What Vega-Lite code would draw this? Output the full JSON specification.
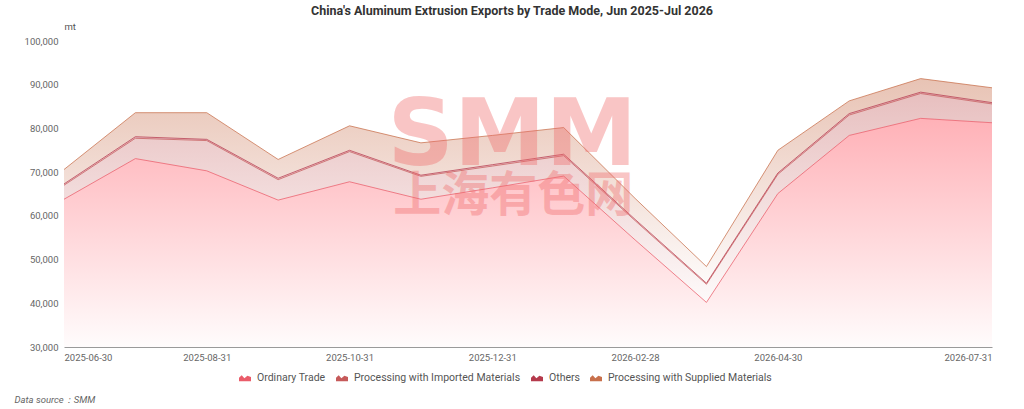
{
  "$schema": "https://vega.github.io/schema/vega-lite/v6.json",
  "width": 928,
  "height": 306,
  "autosize": {"type": "none"},
  "padding": {"left": 64, "top": 41, "right": 32, "bottom": 62},
  "background": "white",
  "config": {"font": "Roboto", "view": {"stroke": null}},
  "title": {
    "text": "China's Aluminum Extrusion Exports by Trade Mode, Jun 2025-Jul 2026",
    "fontSize": 12.5,
    "fontWeight": "bold",
    "color": "#333333",
    "anchor": "middle",
    "frame": "group",
    "dx": -16,
    "offset": 4
  },
  "data": {
    "values": [
      {"date": "2025-06-30", "mode": "Ordinary Trade", "rank": 1, "value": 63800},
      {"date": "2025-06-30", "mode": "Processing with Imported Materials", "rank": 2, "value": 3200},
      {"date": "2025-06-30", "mode": "Others", "rank": 3, "value": 300},
      {"date": "2025-06-30", "mode": "Processing with Supplied Materials", "rank": 4, "value": 3300},
      {"date": "2025-07-31", "mode": "Ordinary Trade", "rank": 1, "value": 73100},
      {"date": "2025-07-31", "mode": "Processing with Imported Materials", "rank": 2, "value": 4650},
      {"date": "2025-07-31", "mode": "Others", "rank": 3, "value": 350},
      {"date": "2025-07-31", "mode": "Processing with Supplied Materials", "rank": 4, "value": 5500},
      {"date": "2025-08-31", "mode": "Ordinary Trade", "rank": 1, "value": 70300},
      {"date": "2025-08-31", "mode": "Processing with Imported Materials", "rank": 2, "value": 6920},
      {"date": "2025-08-31", "mode": "Others", "rank": 3, "value": 280},
      {"date": "2025-08-31", "mode": "Processing with Supplied Materials", "rank": 4, "value": 6100},
      {"date": "2025-09-30", "mode": "Ordinary Trade", "rank": 1, "value": 63600},
      {"date": "2025-09-30", "mode": "Processing with Imported Materials", "rank": 2, "value": 4680},
      {"date": "2025-09-30", "mode": "Others", "rank": 3, "value": 320},
      {"date": "2025-09-30", "mode": "Processing with Supplied Materials", "rank": 4, "value": 4300},
      {"date": "2025-10-31", "mode": "Ordinary Trade", "rank": 1, "value": 67800},
      {"date": "2025-10-31", "mode": "Processing with Imported Materials", "rank": 2, "value": 6900},
      {"date": "2025-10-31", "mode": "Others", "rank": 3, "value": 300},
      {"date": "2025-10-31", "mode": "Processing with Supplied Materials", "rank": 4, "value": 5600},
      {"date": "2025-11-30", "mode": "Ordinary Trade", "rank": 1, "value": 63800},
      {"date": "2025-11-30", "mode": "Processing with Imported Materials", "rank": 2, "value": 5240},
      {"date": "2025-11-30", "mode": "Others", "rank": 3, "value": 260},
      {"date": "2025-11-30", "mode": "Processing with Supplied Materials", "rank": 4, "value": 7400},
      {"date": "2025-12-31", "mode": "Ordinary Trade", "rank": 1, "value": 66400},
      {"date": "2025-12-31", "mode": "Processing with Imported Materials", "rank": 2, "value": 4990},
      {"date": "2025-12-31", "mode": "Others", "rank": 3, "value": 310},
      {"date": "2025-12-31", "mode": "Processing with Supplied Materials", "rank": 4, "value": 6700},
      {"date": "2026-01-31", "mode": "Ordinary Trade", "rank": 1, "value": 69100},
      {"date": "2026-01-31", "mode": "Processing with Imported Materials", "rank": 2, "value": 4670},
      {"date": "2026-01-31", "mode": "Others", "rank": 3, "value": 330},
      {"date": "2026-01-31", "mode": "Processing with Supplied Materials", "rank": 4, "value": 6100},
      {"date": "2026-02-28", "mode": "Ordinary Trade", "rank": 1, "value": 54500},
      {"date": "2026-02-28", "mode": "Processing with Imported Materials", "rank": 2, "value": 4410},
      {"date": "2026-02-28", "mode": "Others", "rank": 3, "value": 290},
      {"date": "2026-02-28", "mode": "Processing with Supplied Materials", "rank": 4, "value": 4800},
      {"date": "2026-03-31", "mode": "Ordinary Trade", "rank": 1, "value": 40200},
      {"date": "2026-03-31", "mode": "Processing with Imported Materials", "rank": 2, "value": 4150},
      {"date": "2026-03-31", "mode": "Others", "rank": 3, "value": 250},
      {"date": "2026-03-31", "mode": "Processing with Supplied Materials", "rank": 4, "value": 3800},
      {"date": "2026-04-30", "mode": "Ordinary Trade", "rank": 1, "value": 65100},
      {"date": "2026-04-30", "mode": "Processing with Imported Materials", "rank": 2, "value": 4400},
      {"date": "2026-04-30", "mode": "Others", "rank": 3, "value": 300},
      {"date": "2026-04-30", "mode": "Processing with Supplied Materials", "rank": 4, "value": 5200},
      {"date": "2026-05-31", "mode": "Ordinary Trade", "rank": 1, "value": 78400},
      {"date": "2026-05-31", "mode": "Processing with Imported Materials", "rank": 2, "value": 4660},
      {"date": "2026-05-31", "mode": "Others", "rank": 3, "value": 340},
      {"date": "2026-05-31", "mode": "Processing with Supplied Materials", "rank": 4, "value": 2900},
      {"date": "2026-06-30", "mode": "Ordinary Trade", "rank": 1, "value": 82300},
      {"date": "2026-06-30", "mode": "Processing with Imported Materials", "rank": 2, "value": 5690},
      {"date": "2026-06-30", "mode": "Others", "rank": 3, "value": 310},
      {"date": "2026-06-30", "mode": "Processing with Supplied Materials", "rank": 4, "value": 3100},
      {"date": "2026-07-31", "mode": "Ordinary Trade", "rank": 1, "value": 81300},
      {"date": "2026-07-31", "mode": "Processing with Imported Materials", "rank": 2, "value": 4300},
      {"date": "2026-07-31", "mode": "Others", "rank": 3, "value": 300},
      {"date": "2026-07-31", "mode": "Processing with Supplied Materials", "rank": 4, "value": 3400}
    ]
  },
  "layer": [
    {
      "transform": [
        {"stack": "value", "groupby": ["date"], "sort": [{"field": "rank", "order": "ascending"}], "as": ["v0", "v1"]}
      ],
      "encoding": {
        "x": {
          "field": "date",
          "type": "ordinal",
          "scale": {"padding": 0},
          "axis": {
            "values": ["2025-06-30", "2025-08-31", "2025-10-31", "2025-12-31", "2026-02-28", "2026-04-30", "2026-07-31"],
            "labelAngle": 0,
            "labelFlush": true,
            "labelFontSize": 9.5,
            "labelColor": "#666666",
            "labelPadding": 5,
            "ticks": false,
            "domainColor": "#9a9a9a",
            "grid": false,
            "title": "Data source：SMM",
            "titleX": -50,
            "titleY": 52,
            "titleAlign": "left",
            "titleBaseline": "middle",
            "titleFontStyle": "italic",
            "titleFontWeight": "normal",
            "titleFontSize": 9.5,
            "titleColor": "#666666"
          }
        },
        "y": {
          "field": "v1",
          "type": "quantitative",
          "scale": {"domain": [30000, 100000], "zero": false},
          "axis": {
            "values": [30000, 40000, 50000, 60000, 70000, 80000, 90000, 100000],
            "format": ",.0f",
            "labelFontSize": 9.5,
            "labelColor": "#666666",
            "labelPadding": 6,
            "ticks": false,
            "domain": false,
            "grid": false,
            "title": "mt",
            "titleAngle": 0,
            "titleX": 0,
            "titleY": -15,
            "titleAlign": "left",
            "titleBaseline": "middle",
            "titleFontSize": 9.5,
            "titleFontWeight": "normal",
            "titleColor": "#555555"
          }
        }
      },
      "layer": [
        {
          "transform": [{"filter": "datum.mode === 'Ordinary Trade'"}],
          "mark": {"type": "area", "clip": true, "fill": {"gradient": "linear", "x1": 0, "y1": 0, "x2": 0, "y2": 1, "stops": [{"offset": 0, "color": "rgba(255,100,112,0.5)"}, {"offset": 1, "color": "rgba(255,100,112,0.02)"}]}},
          "encoding": {"y2": {"datum": 30000}}
        },
        {
          "transform": [{"filter": "datum.mode === 'Processing with Imported Materials'"}],
          "mark": {"type": "area", "clip": true, "fill": {"gradient": "linear", "x1": 0, "y1": 0, "x2": 0, "y2": 1, "stops": [{"offset": 0, "color": "rgba(196,95,95,0.4)"}, {"offset": 1, "color": "rgba(196,95,95,0.03)"}]}},
          "encoding": {"y2": {"field": "v0"}}
        },
        {
          "transform": [{"filter": "datum.mode === 'Others'"}],
          "mark": {"type": "area", "clip": true, "fill": {"gradient": "linear", "x1": 0, "y1": 0, "x2": 0, "y2": 1, "stops": [{"offset": 0, "color": "rgba(183,58,76,0.4)"}, {"offset": 1, "color": "rgba(183,58,76,0.03)"}]}},
          "encoding": {"y2": {"field": "v0"}}
        },
        {
          "transform": [{"filter": "datum.mode === 'Processing with Supplied Materials'"}],
          "mark": {"type": "area", "clip": true, "fill": {"gradient": "linear", "x1": 0, "y1": 0, "x2": 0, "y2": 1, "stops": [{"offset": 0, "color": "rgba(200,112,77,0.42)"}, {"offset": 1, "color": "rgba(200,112,77,0.03)"}]}},
          "encoding": {"y2": {"field": "v0"}}
        },
        {
          "mark": {"type": "line", "strokeWidth": 1, "clip": true, "strokeOpacity": 0.75},
          "encoding": {
            "color": {
              "field": "mode",
              "type": "nominal",
              "scale": {
                "domain": ["Ordinary Trade", "Processing with Imported Materials", "Others", "Processing with Supplied Materials"],
                "range": ["#ea5c6a", "#c65a5a", "#b53a4c", "#c8704c"]
              },
              "legend": {
                "orient": "none",
                "legendX": 175,
                "legendY": 331,
                "direction": "horizontal",
                "columns": 4,
                "title": null,
                "symbolType": "M-1,0.5L-1,-0.1L-0.55,-0.5L-0.1,0L0.4,-0.4L1,-0.2L1,0.5Z",
                "symbolSize": 144,
                "labelFontSize": 10.5,
                "labelColor": "#555555",
                "labelOffset": 6,
                "labelLimit": 300,
                "columnPadding": 10,
                "encode": {
                  "symbols": {
                    "update": {
                      "fill": {"scale": "color", "field": "value"},
                      "fillOpacity": {"value": 1},
                      "strokeWidth": {"value": 0},
                      "opacity": {"value": 1}
                    }
                  }
                }
              }
            }
          }
        }
      ]
    },
    {
      "data": {"values": [{"label": "SMM"}]},
      "mark": {"type": "text", "font": "DejaVu Sans", "fontWeight": "bold", "fontSize": 92, "fill": "#f06a6a", "opacity": 0.38, "align": "center", "baseline": "alphabetic", "dx": 20},
      "encoding": {
        "x": {"datum": "2025-12-31", "type": "ordinal", "scale": {"padding": 0}},
        "y": {"datum": 71600, "type": "quantitative", "scale": {"domain": [30000, 100000], "zero": false}},
        "text": {"field": "label"}
      }
    },
    {
      "data": {"values": [{"label": "上海有色网"}]},
      "mark": {"type": "text", "font": "Noto Sans CJK SC", "fontWeight": "bold", "fontSize": 48, "fill": "#f06a6a", "opacity": 0.38, "align": "center", "baseline": "middle", "dx": 21},
      "encoding": {
        "x": {"datum": "2025-12-31", "type": "ordinal", "scale": {"padding": 0}},
        "y": {"datum": 64300, "type": "quantitative", "scale": {"domain": [30000, 100000], "zero": false}},
        "text": {"field": "label"}
      }
    }
  ]
}
